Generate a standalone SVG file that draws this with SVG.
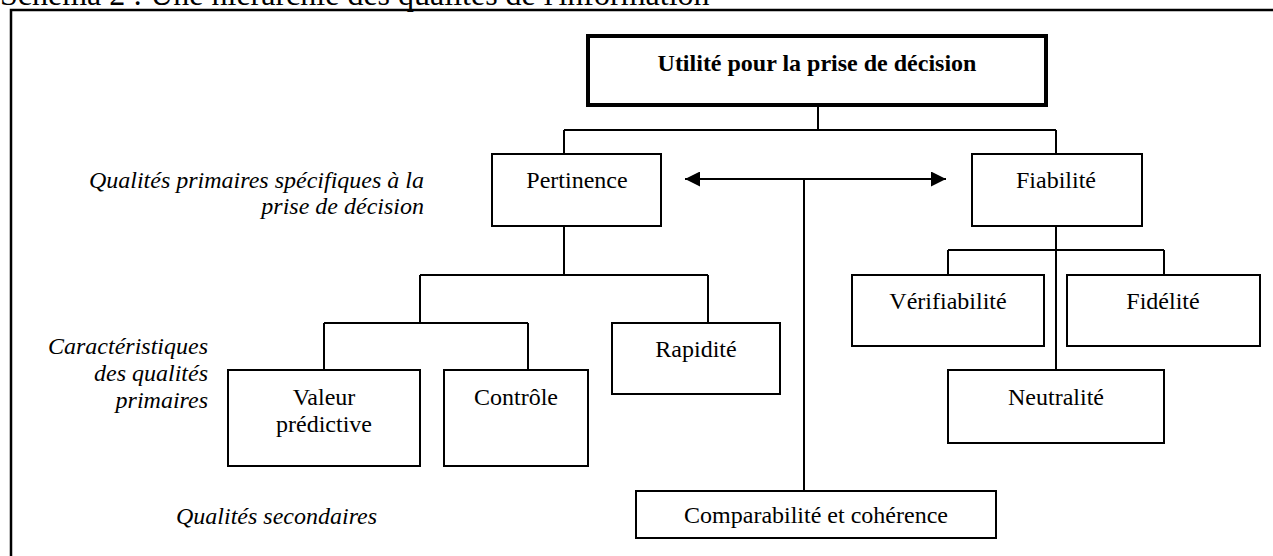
<svg xmlns="http://www.w3.org/2000/svg" width="1273" height="556" viewBox="0 0 1273 556">
<style>
text{font-family:"Liberation Serif","Times New Roman",serif;font-size:24px;fill:#000}
.c{text-anchor:middle}
.lab{font-style:italic;text-anchor:end}
.box{fill:#fff;stroke:#000;stroke-width:2}
.main{fill:#fff;stroke:#000;stroke-width:4}
.ln{fill:none;stroke:#000;stroke-width:2}
</style>
<defs>
<marker id="ah" viewBox="0 0 10 10" refX="10" refY="5" markerWidth="7.5" markerHeight="7.5" orient="auto-start-reverse" markerUnits="strokeWidth">
<path d="M0,0 L10,5 L0,10 z" fill="#000"/>
</marker>
</defs>
<text x="0" y="5" style="font-size:32px">Schéma 2 : Une hiérarchie des qualités de l'information</text>
<path class="ln" d="M1273,10 H11 V556" style="stroke-width:2.5"/>
<g id="labels">
<text class="lab" x="424" y="188">Qualités primaires spécifiques à la</text>
<text class="lab" x="424" y="214">prise de décision</text>
<text class="lab" x="208" y="354">Caractéristiques</text>
<text class="lab" x="208" y="381">des qualités</text>
<text class="lab" x="208" y="408">primaires</text>
<text x="176" y="524" style="font-style:italic">Qualités secondaires</text>
</g>
<g id="connectors">
<path class="ln" d="M818,106 V130 M564,130 H1056 M564,130 V154 M1056,130 V154"/>
<path class="ln" d="M564,226 V275 M420,275 H708 M420,275 V323 M708,275 V323 M324,323 H528 M324,323 V370 M528,323 V370"/>
<path class="ln" d="M1056,226 V370 M948,250 H1164 M948,250 V275 M1164,250 V275"/>
<path class="ln" d="M804,179 V491"/>
<path class="ln" d="M685,179 H946" marker-start="url(#ah)" marker-end="url(#ah)"/>
</g>
<g id="n-utilite"><rect class="main" x="588" y="36" width="458" height="69"/><text class="c" x="817" y="71" style="font-weight:bold">Utilité pour la prise de décision</text></g>
<g id="n-pertinence"><rect class="box" x="492" y="154" width="169" height="72"/><text class="c" x="577" y="188">Pertinence</text></g>
<g id="n-fiabilite"><rect class="box" x="972" y="154" width="170" height="72"/><text class="c" x="1056" y="188">Fiabilité</text></g>
<g id="n-valeur"><rect class="box" x="228" y="370" width="192" height="96"/><text class="c" x="324" y="405">Valeur</text><text class="c" x="324" y="432">prédictive</text></g>
<g id="n-controle"><rect class="box" x="444" y="370" width="144" height="96"/><text class="c" x="516" y="405">Contrôle</text></g>
<g id="n-rapidite"><rect class="box" x="612" y="323" width="168" height="71"/><text class="c" x="696" y="357">Rapidité</text></g>
<g id="n-verif"><rect class="box" x="852" y="275" width="192" height="71"/><text class="c" x="948" y="309">Vérifiabilité</text></g>
<g id="n-fidelite"><rect class="box" x="1067" y="275" width="193" height="71"/><text class="c" x="1163" y="309">Fidélité</text></g>
<g id="n-neutralite"><rect class="box" x="948" y="370" width="216" height="73"/><text class="c" x="1056" y="405">Neutralité</text></g>
<g id="n-compar"><rect class="box" x="636" y="491" width="360" height="47"/><text class="c" x="816" y="523">Comparabilité et cohérence</text></g>
</svg>
